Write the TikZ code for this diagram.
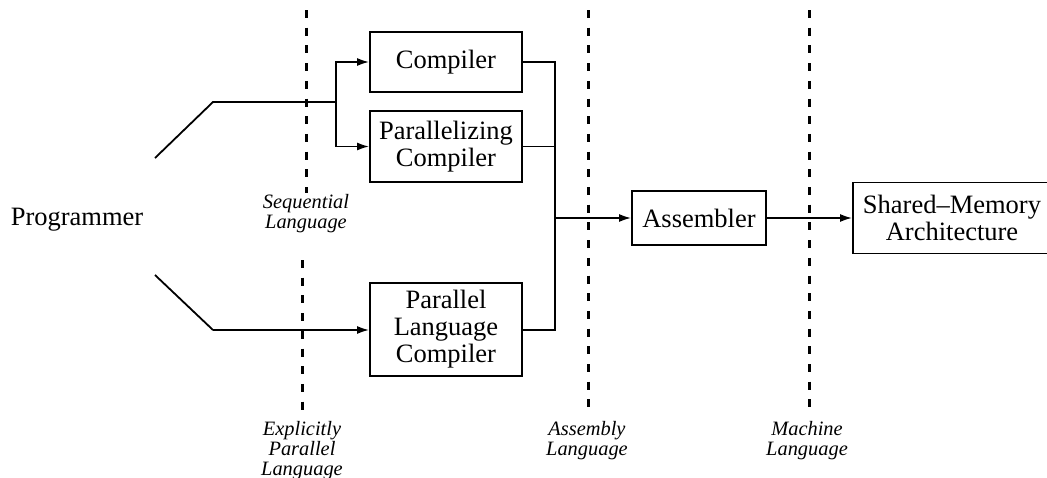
\documentclass[tikz,border=0pt]{standalone}
\usepackage{fontspec}
\setmainfont{Liberation Serif}
\usetikzlibrary{arrows.meta}
\begin{document}
\begin{tikzpicture}[x=1pt,y=-1pt,
  box/.style={draw,line width=1.8pt,inner sep=0pt,align=center,
    font=\fontsize{26.5}{27}\selectfont},
  lbl/.style={align=center,inner sep=0pt,font=\fontsize{20.4}{20}\selectfont\itshape},
  wire/.style={line width=1.8pt},
  arr/.style={wire,-{Latex[length=12pt,width=8pt]}},
  level/.style={line width=3pt,dash pattern=on 8pt off 9.7pt}]
\useasboundingbox (0,0) rectangle (1047,477);
% nodes
\node[inner sep=0pt,font=\fontsize{26.5}{27}\selectfont] (prog) at (77,220) {Programmer};
\node[box,minimum width=152pt,minimum height=60pt] (comp) at (446,62) {Compiler};
\node[box,minimum width=152pt,minimum height=71pt] (par) at (446,146.5) {Parallelizing\\Compiler};
\node[box,minimum width=152pt,minimum height=93pt] (plc) at (446,329.5) {Parallel\\Language\\Compiler};
\node[box,minimum width=134pt,minimum height=54pt] (asm) at (699,218) {Assembler};
\node[box,minimum width=198pt,minimum height=71pt] (smem) at (952,218) {Shared--Memory\\Architecture};
% level lines
\coordinate (d1a) at (306,10);  \coordinate (d1b) at (306,193);
\coordinate (d2a) at (302,260); \coordinate (d2b) at (302,412);
\coordinate (d3a) at (588,10);  \coordinate (d3b) at (588,408);
\coordinate (d4a) at (809,10);  \coordinate (d4b) at (809,408);
\draw[level] (d1a) -- (d1b);
\draw[level] (d2a) -- (d2b);
\draw[level] (d3a) -- (d3b);
\draw[level] (d4a) -- (d4b);
\node[lbl] (l1) at (306,214) {Sequential\\Language};
\node[lbl] (l2) at (302,451) {Explicitly\\Parallel\\Language};
\node[lbl] (l3) at (587,441) {Assembly\\Language};
\node[lbl] (l4) at (807,441) {Machine\\Language};
% connectors
\coordinate (p1) at (155,158);
\coordinate (b1) at (213,102);
\coordinate (s1) at (336,102);
\coordinate (p2) at (155,275);
\coordinate (b2) at (213,330);
\coordinate (jt) at (555,62);
\coordinate (jb) at (555,330);
\coordinate (jm) at (555,218);
\draw[wire] (p1) -- (b1) -- (s1);
\draw[arr] (s1) |- (comp.west);
\draw[arr] (s1) |- (par.west);
\draw[wire] (p2) -- (b2);
\draw[arr] (b2) -- (b2 -| plc.west);
\draw[wire] (comp.east) -- (jt) -- (jb) -- (jb -| plc.east);
\draw[wire] (par.east) -- (par.east -| jt);
\draw[arr] (jm) -- (asm.west);
\draw[arr] (asm.east) -- (smem.west);
\end{tikzpicture}
\end{document}
